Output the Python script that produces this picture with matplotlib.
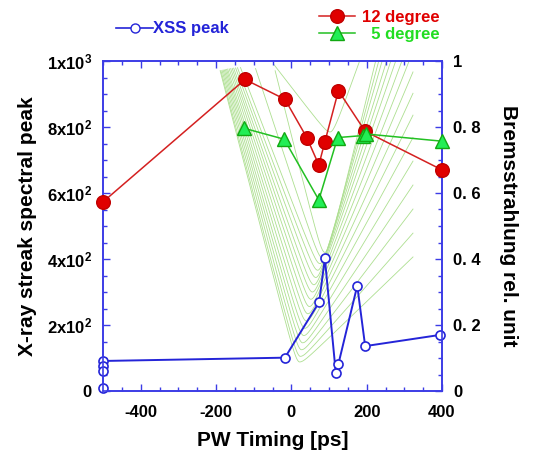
import numpy as np
import matplotlib
matplotlib.use("Agg")
import matplotlib.pyplot as plt
from matplotlib.ticker import MultipleLocator, FixedLocator, FixedFormatter

plt.rcParams['font.family'] = ['Liberation Sans', 'DejaVu Sans']
plt.rcParams['font.weight'] = 'bold'
plt.rcParams['mathtext.default'] = 'regular'
plt.rcParams['axes.unicode_minus'] = False

# XSS peak (left axis), connected series
xss_t = [-500, -17, 74, 89, 118, 125, 175, 196, 395]
xss_v = [91, 101, 270, 402, 55, 82, 319, 136, 170]
# extra XSS shots at -500 ps (not connected)
xss_extra_t = [-500, -500, -500]
xss_extra_v = [76, 60, 10]

# Bremsstrahlung, 12 degree (right axis)
deg12_t = [-500, -123, -17, 41, 73, 89, 125, 196, 400]
deg12_v = [0.573, 0.944, 0.884, 0.768, 0.685, 0.755, 0.910, 0.787, 0.670]

# Bremsstrahlung, 5 degree (right axis)
deg5_t = [-125, -19, 73, 123, 190, 197, 400]
deg5_v = [0.796, 0.763, 0.579, 0.768, 0.774, 0.779, 0.757]

# faint background traces (V shaped streak curves), left axis units
bg_vx = [22, 24, 27, 30, 33, 36, 40, 44, 48, 52, 56, 60, 65, 70, 76, 82, 89, 103]
bg_vy = [88, 105, 125, 146, 168, 190, 212, 234, 256, 278, 300, 322, 344, 366, 386, 404, 420, 785]
bg_top = [-184, -182, -179, -176, -173, -170, -167, -164, -160, -156, -152, -148,
          -143, -138, -130, -90, -38, -42]
bg_rslope = [1.1, 1.3, 1.5, 1.7, 1.9, 2.1, 2.3, 2.5, 2.7, 2.9, 3.1, 3.3, 3.5, 3.7,
             4.0, 4.3, 4.7, 3.2]

left_ticks = [0, 200, 400, 600, 800, 1000]
left_labels = ['0', '2x10$^2$', '4x10$^2$', '6x10$^2$', '8x10$^2$', '1x10$^3$']
right_ticks = [0, 0.2, 0.4, 0.6, 0.8, 1.0]
right_labels = ['0', '0. 2', '0. 4', '0. 6', '0. 8', '1']

blue = '#2424d8'
spine_blue = '#3c3ce6'

fig = plt.figure(figsize=(5.36, 4.58), dpi=100)
ax = fig.add_axes([103/536, 1-391/458, 339/536, 330/458])
ax2 = ax.twinx()

# background curves
for xv, yv, xt, sr in zip(bg_vx, bg_vy, bg_top, bg_rslope):
    c = 12.0
    sl = (1000 - yv) / (xv - xt)
    x = np.linspace(xt - 5, 323, 400)
    d = x - xv
    s = np.where(d < 0, sl, sr)
    y = yv + s * (np.sqrt(d**2 + c**2) - c)
    ax.plot(x, y, color='#addf90', lw=0.6, zorder=1)

ax.plot(xss_t, xss_v, color=blue, lw=1.4, zorder=3)
ax.plot(xss_t + xss_extra_t, xss_v + xss_extra_v, ls='none', marker='o', ms=6.5,
        mfc='white', mec=blue, mew=1.2, zorder=4, clip_on=False)

ax2.plot(deg12_t, deg12_v, color='#d42020', lw=1.1, marker='o', ms=9.8,
         mfc='#e00000', mec='#c00000', zorder=3, clip_on=False)
ax2.plot(deg5_t, deg5_v, color='#22c022', lw=1.1, marker='^', ms=9.8,
         mfc='#22ee55', mec='#12a812', zorder=4, clip_on=False)

ax.set_xlim(-500, 400)
ax.set_ylim(0, 1000)
ax2.set_ylim(0, 1)

ax.xaxis.set_major_locator(MultipleLocator(200))
ax.xaxis.set_minor_locator(MultipleLocator(50))
ax.yaxis.set_major_locator(FixedLocator(left_ticks))
ax.yaxis.set_major_formatter(FixedFormatter(left_labels))
ax.yaxis.set_minor_locator(MultipleLocator(50))
ax2.yaxis.set_major_locator(FixedLocator(right_ticks))
ax2.yaxis.set_major_formatter(FixedFormatter(right_labels))
ax2.yaxis.set_minor_locator(MultipleLocator(0.05))

for a in (ax, ax2):
    for sp in a.spines.values():
        sp.set_color(spine_blue)
        sp.set_linewidth(1.2)
ax.tick_params(which='both', direction='in', top=True, right=False,
               color=spine_blue, width=1.0, labelsize=12)
ax.tick_params(which='major', length=5, pad=8)
ax.tick_params(which='minor', length=3)
ax2.tick_params(which='both', direction='in', color=spine_blue, width=1.0,
                labelsize=12)
ax2.tick_params(which='major', length=5, pad=8)
ax2.tick_params(which='minor', length=3)
ax.tick_params(axis='x', pad=10)

ax.set_xlabel('PW Timing [ps]', fontsize=15, fontweight='bold', labelpad=8)
ax.set_ylabel('X-ray streak spectral peak', fontsize=15, fontweight='bold', labelpad=7)
ax2.set_ylabel('Bremsstrahlung rel. unit', fontsize=15, fontweight='bold',
               rotation=270, labelpad=27)

# legends
h_xss, = ax.plot([], [], color=blue, lw=1.2, marker='o', ms=6.5, mfc='white', mec=blue)
fig.legend([h_xss], ['XSS peak'], loc='center left',
           bbox_to_anchor=(108/536, 1-29/458), frameon=False, borderpad=0,
           handlelength=2.2, handletextpad=0.0, prop={'size': 12, 'weight': 'bold'},
           labelcolor=blue)
h12, = ax2.plot([], [], color='#d42020', lw=1.1, marker='o', ms=9.8,
                mfc='#e00000', mec='#c00000')
h5, = ax2.plot([], [], color='#22c022', lw=1.1, marker='^', ms=9.8,
               mfc='#22ee55', mec='#12a812')
fig.legend([h12, h5], ['12 degree', '  5 degree'], loc='center right',
           bbox_to_anchor=(448/536, 1-26/458), frameon=False, borderpad=0,
           handlelength=2.2, handletextpad=0.4, labelspacing=0.1,
           prop={'size': 12, 'weight': 'bold'}, labelcolor=['#e00000', '#22dd22'])

fig.savefig('out.png', dpi=100)
